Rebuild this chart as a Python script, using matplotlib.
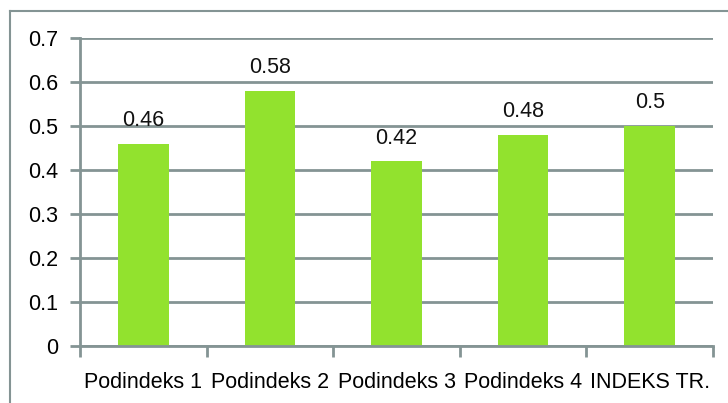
import numpy as np
import matplotlib
matplotlib.use("Agg")
import matplotlib.pyplot as plt
from matplotlib.lines import Line2D

categories = ["Podindeks 1", "Podindeks 2", "Podindeks 3", "Podindeks 4", "INDEKS TR."]
values = [0.46, 0.58, 0.42, 0.48, 0.5]
value_labels = ["0.46", "0.58", "0.42", "0.48", "0.5"]
yticks = [0, 0.1, 0.2, 0.3, 0.4, 0.5, 0.6, 0.7]

plt.rcParams['font.family'] = ['Liberation Sans', 'DejaVu Sans']
gray = "#849494"
green = "#92E22E"

fig = plt.figure(figsize=(7.28, 4.03), dpi=100)
ax = fig.add_axes([80/728, 1-346/403, (713-80)/728, (346-38)/403])

x = np.arange(len(categories))
ax.bar(x, values, width=0.4, color=green, zorder=3)
for xi, v, lab in zip(x, values, value_labels):
    ax.annotate(lab, (xi, v), xytext=(0, 9), textcoords="offset points",
                ha="center", va="bottom", fontsize=15.5, color="#111111")

ax.set_xlim(-0.5, len(categories) - 0.5)
ax.set_ylim(0, 0.7)
ax.set_yticks(yticks)
ax.set_yticklabels([("%g" % t) for t in yticks])
ax.yaxis.grid(True, color=gray, linewidth=2, zorder=0)

ax.set_xticks(np.arange(-0.5, len(categories)), labels=[])
ax.set_xticks(x, labels=categories, minor=True)
ax.tick_params(axis="x", which="major", length=8, width=2, color=gray, direction="out")
ax.tick_params(axis="x", which="minor", length=0, pad=19, labelsize=15.5)
ax.tick_params(axis="y", length=7, width=2, color=gray, labelsize=15.5, pad=9)

for s in ["top", "right"]:
    ax.spines[s].set_visible(False)
for s in ["left", "bottom"]:
    ax.spines[s].set_color(gray)
    ax.spines[s].set_linewidth(2)
    ax.spines[s].set_zorder(4)

# outer chart frame
fig.add_artist(Line2D([10/728, 1], [1-11/403, 1-11/403], color=gray, lw=1.5, transform=fig.transFigure))
fig.add_artist(Line2D([10/728, 10/728], [0, 1-11/403], color=gray, lw=1.5, transform=fig.transFigure))

fig.savefig("out.png", dpi=100)
